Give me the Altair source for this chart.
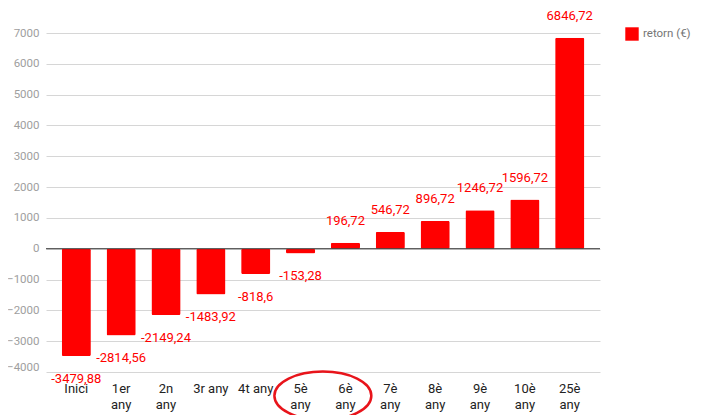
import altair as alt
import pandas as pd

categories = ["Inici", "1er any", "2n any", "3r any", "4t any", "5è any",
              "6è any", "7è any", "8è any", "9è any", "10è any", "25è any"]
values = [-3479.88, -2814.56, -2149.24, -1483.92, -818.6, -153.28,
          196.72, 546.72, 896.72, 1246.72, 1596.72, 6846.72]
single_line_labels = ["Inici", "3r any", "4t any"]
series_name = "retorn (€)"
y_ticks = list(range(-4000, 7001, 1000))
# hand-drawn highlight around the "5è any" / "6è any" labels
highlight_category = ["5è any"]
highlight_value = [-4770]

df = pd.DataFrame({"cat": categories, "v": values, "s": series_name})
hl = pd.DataFrame({"cat": highlight_category, "v": highlight_value})

FONT = "Roboto"
single_js = "[" + ",".join("'%s'" % s for s in single_line_labels) + "]"

xscale = alt.Scale(paddingInner=0.35, paddingOuter=0.35)
xaxis = alt.Axis(labelAngle=0, domain=False, ticks=False, labelPadding=10,
                 labelFont=FONT, labelFontSize=13, labelColor="#222222",
                 labelLineHeight=16,
                 labelExpr="indexof(%s, datum.value) >= 0 ? datum.value : split(datum.value, ' ')" % single_js)
yscale = alt.Scale(domain=[-4000, 7000], nice=False)
yaxis = alt.Axis(values=y_ticks, domain=False, ticks=False, labelPadding=7,
                 labelFont=FONT, labelFontSize=11.5, labelColor="#9e9e9e",
                 gridColor="#d6d6d6", format="d", labelOverlap=False,
                 labelBaseline={"expr": "datum.value == -4000 ? 'bottom' : 'middle'"})


def X():
    return alt.X("cat:N", sort=categories, title=None, scale=xscale, axis=xaxis)


def Y(field="v:Q"):
    return alt.Y(field, title=None, scale=yscale, axis=yaxis)


base = alt.Chart(df)
bars = base.mark_bar(cornerRadius=1.5).encode(
    x=X(), y=Y(),
    color=alt.Color("s:N", title=None,
                    scale=alt.Scale(range=["#ff0000"]),
                    legend=alt.Legend(orient="none", legendX=579, legendY=-6,
                                      symbolType="square", symbolSize=180,
                                      symbolStrokeWidth=0, padding=0,
                                      labelFont=FONT, labelFontSize=11.5,
                                      labelColor="#757575", labelOffset=4)))

zero = alt.Chart(pd.DataFrame({"z": [0]})).mark_rule(color="#333333", strokeWidth=1).encode(
    y=Y("z:Q"))

lab = base.transform_calculate(t="replace(toString(datum.v), '.', ',')")
pos = lab.transform_filter("datum.v >= 0").mark_text(
    color="#ff0000", font=FONT, fontSize=13, baseline="middle", dy=-22).encode(
    x=X(), y=Y(), text="t:N")
neg = lab.transform_filter("datum.v < 0").mark_text(
    color="#ff0000", font=FONT, fontSize=13, baseline="middle", dy=23).encode(
    x=X(), y=Y(), text="t:N")

# ellipse path, shifted right by half a band step so it sits between two labels
s = 0.46
ellipse = ("M {a} 0 C {a} -0.28 {b} -0.5 {c} -0.5 C {d} -0.5 {e} -0.28 {e} 0 "
           "C {e} 0.28 {d} 0.5 {c} 0.5 C {b} 0.5 {a} 0.28 {a} 0 Z").format(
    a=-1 + s, b=-0.55 + s, c=s, d=0.55 + s, e=1 + s)
circle = alt.Chart(hl).mark_point(shape=ellipse, size=9400, filled=False,
                                  color="#e8141b", strokeWidth=2.5, opacity=1).encode(
    x=X(), y=Y())

chart = alt.layer(bars, zero, pos, neg, circle).properties(
    width=554, height=339,
    autosize=alt.AutoSizeParams(type="none"),
    padding={"left": 38, "top": 25, "right": 96, "bottom": 43},
).configure_view(stroke=None)

chart.save("out.html", embed_options={"renderer": "svg", "actions": False})
